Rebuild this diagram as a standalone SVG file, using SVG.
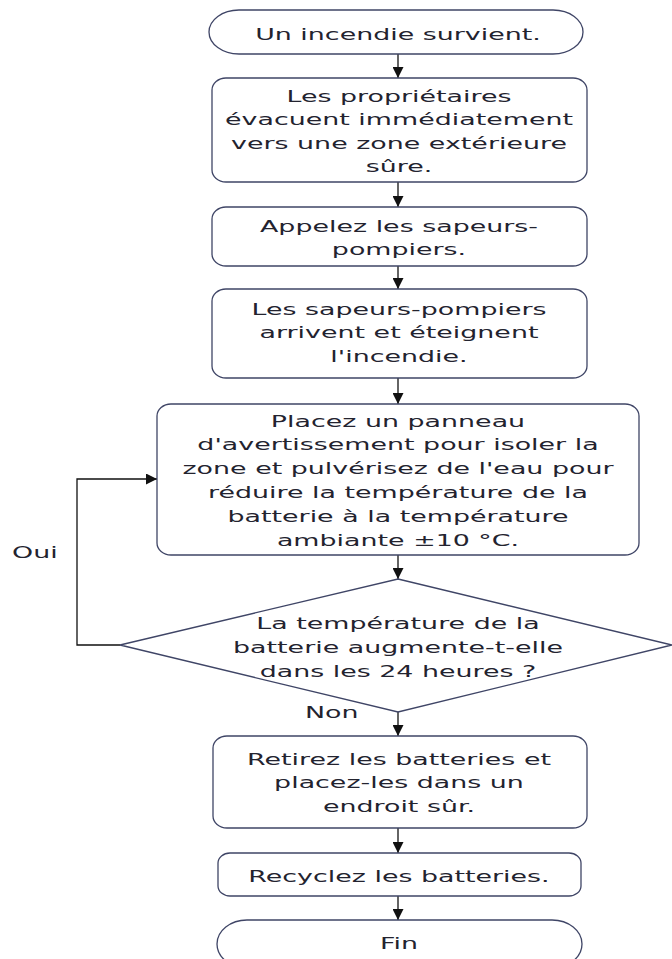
<svg xmlns="http://www.w3.org/2000/svg" width="672" height="959" viewBox="0 0 672 959">
<style>
.s{fill:#fff;stroke:#3f4566;stroke-width:1.3}
.c{fill:none;stroke:#111;stroke-width:1.3}
text{font-family:"DejaVu Sans","Liberation Sans",sans-serif;font-size:16px;fill:#23232f}
.m text{text-anchor:middle}
</style>
<defs>
<marker id="ah" markerUnits="userSpaceOnUse" markerWidth="12" markerHeight="11" refX="11" refY="5.5" orient="auto">
<path d="M0,0 L11,5.5 L0,11 Z" fill="#111"/>
</marker>
</defs>
<g id="connectors">
<path class="c" d="M398,54 V78" marker-end="url(#ah)"/>
<path class="c" d="M398,182 V207" marker-end="url(#ah)"/>
<path class="c" d="M398,266 V289" marker-end="url(#ah)"/>
<path class="c" d="M398,378 V404" marker-end="url(#ah)"/>
<path class="c" d="M398,555 V579" marker-end="url(#ah)"/>
<path class="c" d="M398,712 V736" marker-end="url(#ah)"/>
<path class="c" d="M398,828 V853" marker-end="url(#ah)"/>
<path class="c" d="M398,896 V920" marker-end="url(#ah)"/>
<path class="c" d="M120,645 H77 V479 H157" marker-end="url(#ah)"/>
<g transform="matrix(1.68 0 0 1 12 0)"><text x="0" y="558">Oui</text></g>
<g transform="matrix(1.68 0 0 1 305 0)"><text x="0" y="718">Non</text></g>
</g>
<g id="start">
<rect class="s" x="209" y="10" width="374" height="44" rx="30" ry="22"/>
<g class="m" transform="matrix(1.68 0 0 1 398 0)"><text x="0" y="40">Un incendie survient.</text></g>
</g>
<g id="evacuate">
<rect class="s" x="212" y="78" width="375" height="104" rx="14" ry="12"/>
<g class="m" transform="matrix(1.68 0 0 1 399 0)">
<text x="0" y="102">Les propriétaires</text>
<text x="0" y="125.5">évacuent immédiatement</text>
<text x="0" y="149">vers une zone extérieure</text>
<text x="0" y="172.5">sûre.</text>
</g>
</g>
<g id="call">
<rect class="s" x="212" y="207" width="375" height="59" rx="14" ry="12"/>
<g class="m" transform="matrix(1.68 0 0 1 399 0)">
<text x="0" y="232">Appelez les sapeurs-</text>
<text x="0" y="255.5">pompiers.</text>
</g>
</g>
<g id="extinguish">
<rect class="s" x="212" y="289" width="375" height="89" rx="14" ry="12"/>
<g class="m" transform="matrix(1.68 0 0 1 399 0)">
<text x="0" y="315">Les sapeurs-pompiers</text>
<text x="0" y="338.5">arrivent et éteignent</text>
<text x="0" y="362.5">l'incendie.</text>
</g>
</g>
<g id="cool">
<rect class="s" x="157" y="404" width="482" height="151" rx="14" ry="12"/>
<g class="m" transform="matrix(1.68 0 0 1 398 0)">
<text x="0" y="427">Placez un panneau</text>
<text x="0" y="450.5">d'avertissement pour isoler la</text>
<text x="0" y="474">zone et pulvérisez de l'eau pour</text>
<text x="0" y="498">réduire la température de la</text>
<text x="0" y="522">batterie à la température</text>
<text x="0" y="546">ambiante ±10 °C.</text>
</g>
</g>
<g id="decision">
<polygon class="s" points="398,579 672,645 398,712 120,645"/>
<g class="m" transform="matrix(1.68 0 0 1 398 0)">
<text x="0" y="629">La température de la</text>
<text x="0" y="653">batterie augmente-t-elle</text>
<text x="0" y="677">dans les 24 heures ?</text>
</g>
</g>
<g id="remove">
<rect class="s" x="213" y="736" width="374" height="92" rx="14" ry="12"/>
<g class="m" transform="matrix(1.68 0 0 1 399 0)">
<text x="0" y="765">Retirez les batteries et</text>
<text x="0" y="788.5">placez-les dans un</text>
<text x="0" y="812.5">endroit sûr.</text>
</g>
</g>
<g id="recycle">
<rect class="s" x="218" y="853" width="363" height="43" rx="12" ry="10"/>
<g class="m" transform="matrix(1.68 0 0 1 399 0)"><text x="0" y="882">Recyclez les batteries.</text></g>
</g>
<g id="end">
<rect class="s" x="217" y="920" width="365" height="48" rx="30" ry="24"/>
<g class="m" transform="matrix(1.68 0 0 1 399 0)"><text x="0" y="949">Fin</text></g>
</g>
</svg>
